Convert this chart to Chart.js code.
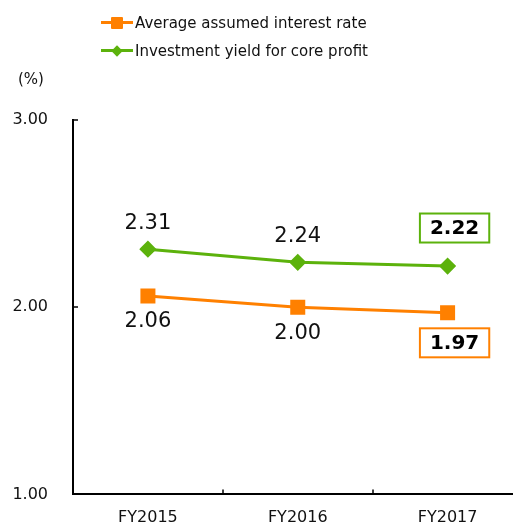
<!DOCTYPE html>
<html>
<head>
<meta charset="utf-8">
<script src="https://cdn.jsdelivr.net/npm/chart.js@4"></script>
<style>
  html, body { margin: 0; padding: 0; background: #fff; overflow: hidden; }
  #wrap { position: relative; width: 513px; height: 527px; overflow: hidden; font-family: "DejaVu Sans", Verdana, sans-serif; }
  #yieldChart { position: absolute; left: 0; top: 0; }
  .leg { position: absolute; left: 101px; height: 20px; font-size: 15px; color: #111; }
  .leg .ln { position: absolute; left: 0; top: 8px; width: 32px; height: 3px; }
  .leg .mk { position: absolute; }
  .leg .tx { position: absolute; left: 34px; top: 0; white-space: nowrap; line-height: 20px; }
  #unit { position: absolute; left: 18px; top: 70px; font-size: 15px; color: #111; }
</style>
</head>
<body>
<div id="wrap">
  <canvas id="yieldChart" width="534" height="529"></canvas>
  <div class="leg" style="top:13px">
    <div class="ln" style="background:#ff8000"></div>
    <div class="mk" style="left:10px;top:4px;width:12px;height:12px;background:#ff8000;border-radius:1px"></div>
    <div class="tx">Average assumed interest rate</div>
  </div>
  <div class="leg" style="top:41px">
    <div class="ln" style="background:#5cb20c"></div>
    <div class="mk" style="left:12px;top:6px;width:8px;height:8px;background:#5cb20c;transform:rotate(45deg)"></div>
    <div class="tx">Investment yield for core profit</div>
  </div>
  <div id="unit">(%)</div>
</div>
<script>
// Données
const years = ['FY2015', 'FY2016', 'FY2017'];
const assumedRate = [2.06, 2.00, 1.97];
const coreYield = [2.31, 2.24, 2.22];
const yTicks = [1, 2, 3];

const ORANGE = '#ff8000';
const GREEN = '#5cb20c';

// Petits traits de graduation tournés vers l'intérieur
const innerTicks = {
  id: 'innerTicks',
  afterDraw(chart) {
    const { ctx, chartArea, scales } = chart;
    ctx.save();
    ctx.strokeStyle = '#000';
    ctx.lineWidth = 1.5;
    yTicks.forEach(v => {
      if (v === scales.y.min) return;
      const y = Math.round(scales.y.getPixelForValue(v));
      ctx.beginPath();
      ctx.moveTo(chartArea.left, y);
      ctx.lineTo(chartArea.left + 5, y);
      ctx.stroke();
    });
    for (let i = 0; i < years.length - 1; i++) {
      const x = Math.round((scales.x.getPixelForTick(i) + scales.x.getPixelForTick(i + 1)) / 2);
      ctx.beginPath();
      ctx.moveTo(x, chartArea.bottom);
      ctx.lineTo(x, chartArea.bottom - 5);
      ctx.stroke();
    }
    ctx.restore();
  }
};

// Étiquettes de valeurs (la dernière en gras dans un cadre)
const valueLabels = {
  id: 'valueLabels',
  afterDatasetsDraw(chart) {
    const { ctx } = chart;
    ctx.save();
    ctx.textAlign = 'center';
    ctx.textBaseline = 'middle';
    chart.data.datasets.forEach((ds, di) => {
      const meta = chart.getDatasetMeta(di);
      meta.data.forEach((pt, i) => {
        const txt = ds.data[i].toFixed(2);
        const dir = ds.labelPos === 'above' ? -1 : 1;
        if (i === ds.data.length - 1) {
          ctx.font = 'bold 20px "DejaVu Sans", Verdana, sans-serif';
          const cx = pt.x + 7;
          const cy = pt.y + dir * (ds.labelPos === 'above' ? 38 : 30);
          const w = ctx.measureText(txt).width + 20;
          const h = 29;
          ctx.fillStyle = '#fff';
          ctx.fillRect(cx - w / 2, cy - h / 2, w, h);
          ctx.strokeStyle = ds.borderColor;
          ctx.lineWidth = 2;
          ctx.strokeRect(cx - w / 2, cy - h / 2, w, h);
          ctx.fillStyle = '#000';
          ctx.fillText(txt, cx, cy + 1);
        } else {
          ctx.font = '21px "DejaVu Sans", Verdana, sans-serif';
          ctx.fillStyle = '#111';
          ctx.fillText(txt, pt.x, pt.y + dir * 26);
        }
      });
    });
    ctx.restore();
  }
};

new Chart(document.getElementById('yieldChart'), {
  type: 'line',
  data: {
    labels: years,
    datasets: [{
      label: 'Average assumed interest rate',
      data: assumedRate,
      borderColor: ORANGE,
      backgroundColor: ORANGE,
      borderWidth: 3,
      pointStyle: 'rect',
      pointRadius: 8.5,
      pointHoverRadius: 8.5,
      labelPos: 'below'
    }, {
      label: 'Investment yield for core profit',
      data: coreYield,
      borderColor: GREEN,
      backgroundColor: GREEN,
      borderWidth: 3,
      pointStyle: 'rectRot',
      pointRadius: 6.5,
      pointHoverRadius: 6.5,
      labelPos: 'above'
    }]
  },
  options: {
    responsive: false,
    animation: false,
    layout: { padding: { top: 120, right: 2, left: 0, bottom: 0 } },
    plugins: {
      legend: { display: false },
      tooltip: { enabled: false }
    },
    scales: {
      x: {
        offset: true,
        grid: { display: false, drawTicks: false },
        border: { display: true, color: '#000', width: 2 },
        ticks: {
          color: '#111',
          padding: 14,
          font: { family: '"DejaVu Sans", Verdana, sans-serif', size: 16 }
        },
        afterFit(scale) { scale.height = 30; }
      },
      y: {
        min: 1,
        max: 3,
        grid: { display: false, drawTicks: false },
        border: { display: true, color: '#000', width: 2 },
        ticks: {
          stepSize: 1,
          color: '#111',
          padding: 25,
          font: { family: '"DejaVu Sans", Verdana, sans-serif', size: 16 },
          callback: v => v.toFixed(2)
        },
        afterFit(scale) { scale.width = 73; }
      }
    }
  },
  plugins: [innerTicks, valueLabels]
});
</script>
</body>
</html>
